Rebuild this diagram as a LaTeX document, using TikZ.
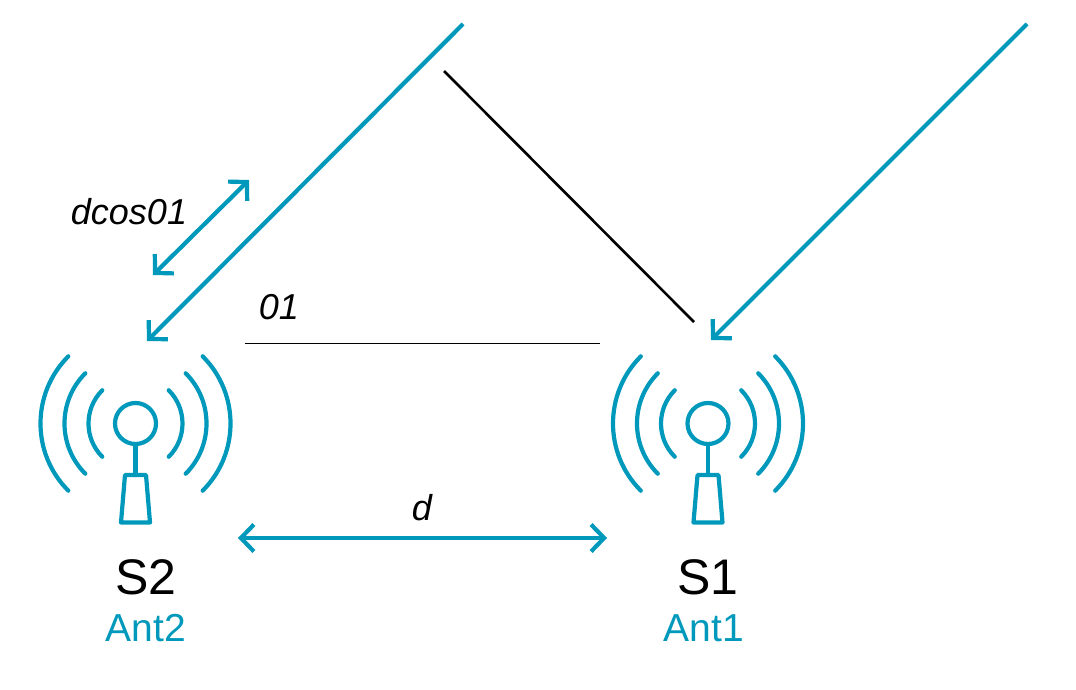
\documentclass[tikz,border=0pt]{standalone}
\usepackage{fontspec}
\usepackage{tikz}
\usetikzlibrary{arrows.meta}
\setmainfont{Liberation Sans}
\definecolor{antblue}{HTML}{0099BB}

\begin{document}
\begin{tikzpicture}[x=1pt,y=-1pt,
    ray/.style={antblue, line width=4.2pt, {Straight Barb[length=13pt,width=27pt]}-},
    twoway/.style={antblue, line width=4.2pt, {Straight Barb[length=13pt,width=27pt]}-{Straight Barb[length=13pt,width=27pt]}},
    wave/.style={antblue, line width=4.2pt, line cap=round, line join=round},
    head/.style={circle, draw=antblue, line width=4.2pt, minimum size=41pt, inner sep=0pt},
    station/.style={font=\fontsize{50}{50}\selectfont},
    antname/.style={antblue, font=\fontsize{39}{39}\selectfont},
    quantity/.style={font=\fontsize{36}{36}\selectfont\itshape}]
    \useasboundingbox (0,0) rectangle (1076,690);

    % Define antennas
    \foreach \name/\xpos in {S2/135.5, S1/708} {
        \node[head] (head\name) at (\xpos,423.5) {};
        \coordinate (mast\name) at (\xpos,475);
        \draw[wave] (head\name) -- (mast\name);
        \draw[wave] (\xpos-10.5,475) -- (\xpos+10.5,475) -- (\xpos+14.5,522.5) -- (\xpos-14.5,522.5) -- cycle;
        \foreach \rad in {47,71,95} {
            \draw[wave] (\xpos,423.5) ++(135:\rad) arc[start angle=135, end angle=225, radius=\rad];
            \draw[wave] (\xpos,423.5) ++(45:\rad) arc[start angle=45, end angle=-45, radius=\rad];
        }
    }

    % Define labels
    \node[station] (nameS2) at (146,577) {S2};
    \node[antname] (antS2) at (146,628) {Ant2};
    \node[station] (nameS1) at (708,577) {S1};
    \node[antname] (antS1) at (704,628) {Ant1};
    \node[quantity] (path) at (129,212) {dcos01};
    \node[quantity] (angle) at (279,307) {01};
    \node[quantity] (dist) at (422,508) {d};

    % Define line ends
    \coordinate (rayS2) at (147,341);
    \coordinate (farS2) at (463,24);
    \coordinate (rayS1) at (711,340);
    \coordinate (farS1) at (1027,24);
    \coordinate (pathA) at (153,275);
    \coordinate (pathB) at (249,180);
    \coordinate (frontA) at (444,71);
    \coordinate (frontB) at (694,322);
    \coordinate (baseA) at (245,343);
    \coordinate (baseB) at (600,343);
    \coordinate (distA) at (238,538);
    \coordinate (distB) at (607,538);

    % Draw lines with arrows
    \draw[ray] (rayS2) -- (farS2);
    \draw[ray] (rayS1) -- (farS1);
    \draw[twoway] (pathA) -- (pathB);
    \draw[twoway] (distA) -- (distB);
    \draw[line width=2.6pt] (frontA) -- (frontB);
    \draw[line width=1pt] (baseA) -- (baseB);
\end{tikzpicture}
\end{document}
